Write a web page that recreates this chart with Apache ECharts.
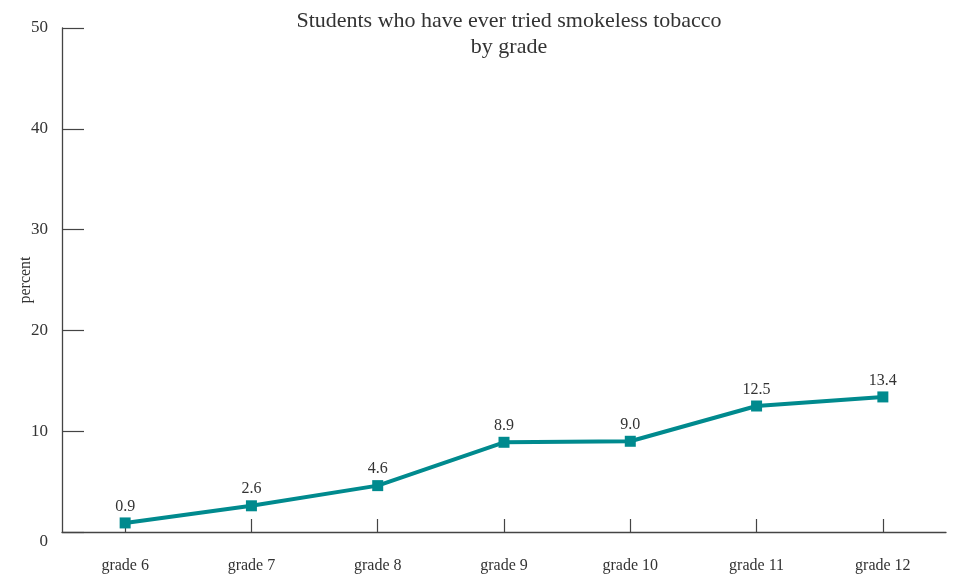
<!DOCTYPE html>
<html>
<head>
<meta charset="utf-8">
<script src="https://cdn.jsdelivr.net/npm/echarts@6/dist/echarts.min.js"></script>
<style>html,body{margin:0;padding:0;background:#fff}#c{width:954px;height:576px}</style>
</head>
<body>
<div id="c"></div>
<script>
const categories = ['grade 6','grade 7','grade 8','grade 9','grade 10','grade 11','grade 12'];
const values = [0.9, 2.6, 4.6, 8.9, 9.0, 12.5, 13.4];
const yTicks = [0, 10, 20, 30, 40, 50];

const FONT = '"Liberation Serif", "DejaVu Serif", serif';
const chart = echarts.init(document.getElementById('c'), null, {renderer: 'canvas'});
chart.setOption({
  animation: false,
  backgroundColor: '#fff',
  title: {
    text: 'Students who have ever tried smokeless tobacco\nby grade',
    left: 504, textAlign: 'center', top: 3,
    textStyle: {fontFamily: FONT, fontSize: 22, fontWeight: 'normal', color: '#333', lineHeight: 26}
  },
  grid: {left: 62, right: 8, top: 28, bottom: 44, containLabel: false, outerBoundsMode: 'none'},
  xAxis: {
    type: 'category', data: categories, boundaryGap: true,
    axisLine: {lineStyle: {color: '#444', width: 1.3}},
    axisTick: {show: true, inside: true, alignWithLabel: true, interval: 0, length: 13, lineStyle: {color: '#444', width: 1.2}},
    axisLabel: {fontFamily: FONT, fontSize: 16, color: '#333', margin: 26}
  },
  yAxis: {
    type: 'value', min: yTicks[0], max: yTicks[yTicks.length-1], interval: 10,
    name: 'percent', nameLocation: 'middle', nameGap: 28, nameMoveOverlap: false,
    nameTextStyle: {fontFamily: FONT, fontSize: 16, color: '#333'},
    splitLine: {show: false},
    axisLine: {show: true, lineStyle: {color: '#444', width: 1.3}},
    axisTick: {show: true, inside: true, length: 22, lineStyle: {color: '#444', width: 1.2}},
    axisLabel: {
      fontFamily: FONT, fontSize: 17, color: '#333', margin: 14,
      formatter: v => v === 0 ? '{z|0}' : String(v),
      rich: {z: {fontFamily: FONT, fontSize: 17, color: '#333', padding: [20, 0, 0, 0]}}
    }
  },
  series: [{
    type: 'line', data: values,
    symbol: 'rect', symbolSize: 11,
    lineStyle: {color: '#008A8E', width: 4},
    itemStyle: {color: '#008A8E'},
    label: {
      show: true, position: 'top', distance: 3,
      fontFamily: FONT, fontSize: 16, color: '#333',
      formatter: p => p.value.toFixed(1)
    }
  }]
});
</script>
</body>
</html>
